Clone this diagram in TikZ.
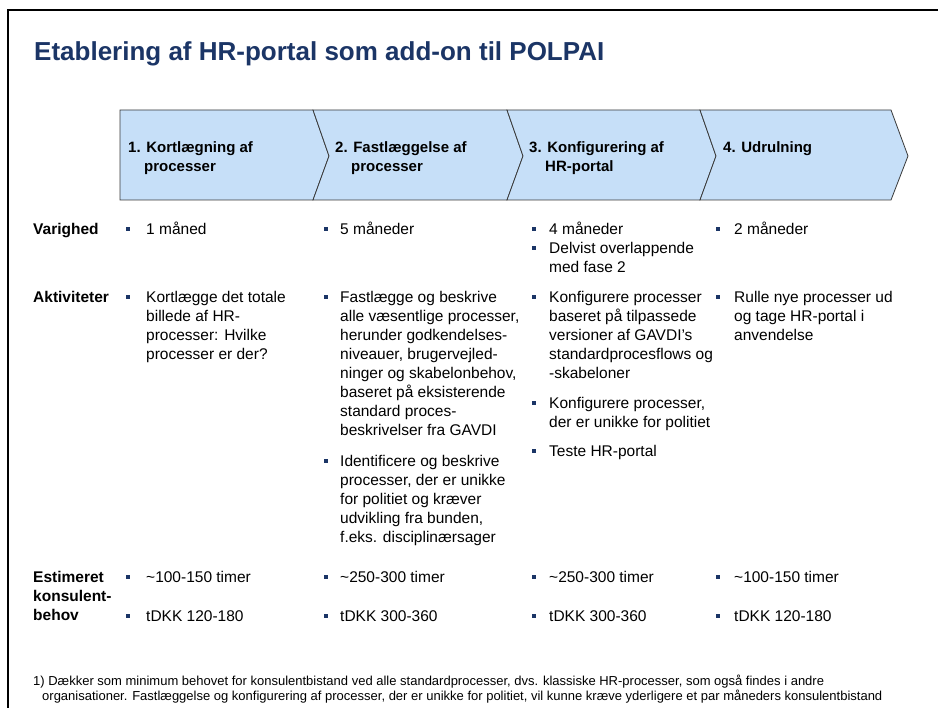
\documentclass[tikz,border=0pt]{standalone}
\usepackage{fontspec}
\setmainfont{Liberation Sans}
\definecolor{navy}{HTML}{1B3566}
\definecolor{chevfill}{HTML}{C6DFF8}
\definecolor{chevline}{HTML}{3A3A3A}
\newcommand{\mlines}[1]{\begin{tabular}[t]{@{}l@{}}#1\end{tabular}}
\begin{document}
\begin{tikzpicture}[x=1pt,y=-1pt,
  chev/.style={fill=chevfill,draw=chevline,line width=0.8pt,line join=miter},
  chevtxt/.style={anchor=base west,inner sep=0pt,font=\fontsize{15}{18.5}\selectfont\bfseries},
  rowlab/.style={anchor=base west,inner sep=0pt,font=\fontsize{15.5}{19}\selectfont\bfseries},
  body/.style={anchor=base west,inner sep=0pt,font=\fontsize{15.5}{19}\selectfont},
  bul/.style={rectangle,fill=navy,minimum size=4pt,inner sep=0pt},
  foot/.style={anchor=base west,inner sep=0pt,font=\fontsize{13}{15}\selectfont}
]
\useasboundingbox (0,0) rectangle (938,708);
\fill[white] (0,0) rectangle (938,708);
% frame
\draw[line width=2pt] (938,10) -- (8,10) -- (8,708);
% title
\node[anchor=base west,inner sep=0pt,text=navy,font=\fontsize{26}{30}\selectfont\bfseries] (title) at (34,61) {Etablering af HR-portal som add-on til POLPAI};
% chevrons
\draw[chev] (120,110) -- (313,110) -- (329,156) -- (313,200) -- (120,200) -- cycle;
\draw[chev] (313,110) -- (507,110) -- (523,156) -- (507,200) -- (313,200) -- (329,156) -- cycle;
\draw[chev] (507,110) -- (700,110) -- (716,156) -- (700,200) -- (507,200) -- (523,156) -- cycle;
\draw[chev] (700,110) -- (891,110) -- (908,156) -- (891,200) -- (700,200) -- (716,156) -- cycle;
\node[chevtxt] (p1) at (128,153) {\mlines{1. Kortlægning af\\\hspace*{16pt}processer}};
\node[chevtxt] (p2) at (335,153) {\mlines{2. Fastlæggelse af\\\hspace*{16pt}processer}};
\node[chevtxt] (p3) at (529,153) {\mlines{3. Konfigurering af\\\hspace*{16pt}HR-portal}};
\node[chevtxt] (p4) at (723,153) {4. Udrulning};
% row labels
\node[rowlab] (lv) at (33,235) {Varighed};
\node[rowlab] (la) at (33,303) {Aktiviteter};
\node[rowlab] (le) at (33,583) {\mlines{Estimeret\\konsulent-\\behov}};
% Varighed
\node[bul] (bv1) at (128,229.5) {};
\node[body] (v1) at (146,235) {1 måned};
\node[bul] (bv2) at (326,229.5) {};
\node[body] (v2) at (340,235) {5 måneder};
\node[bul] (bv3a) at (534,229.5) {};
\node[body] (v3a) at (549,235) {4 måneder};
\node[bul] (bv3b) at (534,248) {};
\node[body] (v3b) at (549,253.5) {\mlines{Delvist overlappende\\med fase 2}};
\node[bul] (bv4) at (718,229.5) {};
\node[body] (v4) at (734,235) {2 måneder};
% Aktiviteter
\node[bul] (ba1) at (128,297.5) {};
\node[body] (a1) at (146,303) {\mlines{Kortlægge det totale\\billede af HR-\\processer: Hvilke\\processer er der?}};
\node[bul] (ba2a) at (326,297.5) {};
\node[body] (a2a) at (340,303) {\mlines{Fastlægge og beskrive\\alle væsentlige processer,\\herunder godkendelses-\\niveauer, brugervejled-\\ninger og skabelonbehov,\\baseret på eksisterende\\standard proces-\\beskrivelser fra GAVDI}};
\node[bul] (ba2b) at (326,461.5) {};
\node[body] (a2b) at (340,467) {\mlines{Identificere og beskrive\\processer, der er unikke\\for politiet og kræver\\udvikling fra bunden,\\f.eks. disciplinærsager}};
\node[bul] (ba3a) at (534,297.5) {};
\node[body] (a3a) at (549,303) {\mlines{Konfigurere processer\\baseret på tilpassede\\versioner af GAVDI’s\\standardprocesflows og\\-skabeloner}};
\node[bul] (ba3b) at (534,403.5) {};
\node[body] (a3b) at (549,409) {\mlines{Konfigurere processer,\\der er unikke for politiet}};
\node[bul] (ba3c) at (534,451.5) {};
\node[body] (a3c) at (549,457) {Teste HR-portal};
\node[bul] (ba4) at (718,297.5) {};
\node[body] (a4) at (734,303) {\mlines{Rulle nye processer ud\\og tage HR-portal i\\anvendelse}};
% Estimeret
\node[bul] (be1a) at (128,577.5) {};
\node[body] (e1a) at (146,583) {\textasciitilde100-150 timer};
\node[bul] (be1b) at (128,615.5) {};
\node[body] (e1b) at (146,621) {tDKK 120-180};
\node[bul] (be2a) at (326,577.5) {};
\node[body] (e2a) at (340,583) {\textasciitilde250-300 timer};
\node[bul] (be2b) at (326,615.5) {};
\node[body] (e2b) at (340,621) {tDKK 300-360};
\node[bul] (be3a) at (534,577.5) {};
\node[body] (e3a) at (549,583) {\textasciitilde250-300 timer};
\node[bul] (be3b) at (534,615.5) {};
\node[body] (e3b) at (549,621) {tDKK 300-360};
\node[bul] (be4a) at (718,577.5) {};
\node[body] (e4a) at (734,583) {\textasciitilde100-150 timer};
\node[bul] (be4b) at (718,615.5) {};
\node[body] (e4b) at (734,621) {tDKK 120-180};
% footnote
\node[foot] (fn1) at (33,685) {1) Dækker som minimum behovet for konsulentbistand ved alle standardprocesser, dvs. klassiske HR-processer, som også findes i andre};
\node[foot] (fn2) at (42,700) {organisationer. Fastlæggelse og konfigurering af processer, der er unikke for politiet, vil kunne kræve yderligere et par måneders konsulentbistand};
\end{tikzpicture}
\end{document}
